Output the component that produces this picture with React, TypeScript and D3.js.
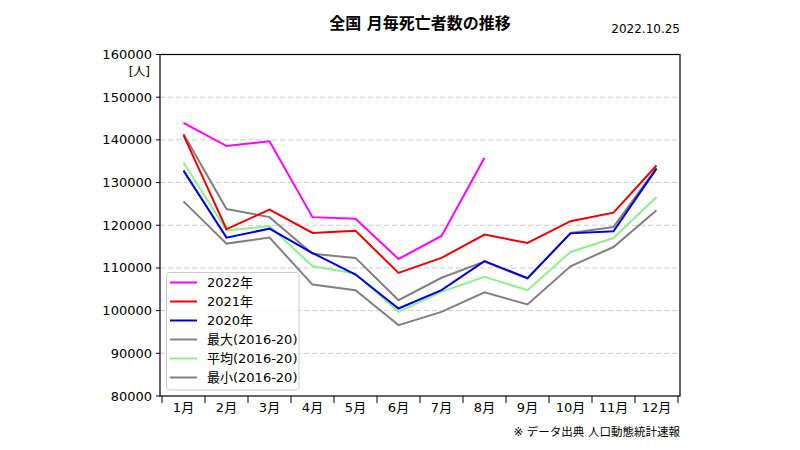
import React from 'react';
import { scaleBand, scaleLinear, line, range } from 'd3';

const width = 800;
const height = 450;

const months = ['1月', '2月', '3月', '4月', '5月', '6月', '7月', '8月', '9月', '10月', '11月', '12月'];
const yTicks = [80000, 90000, 100000, 110000, 120000, 130000, 140000, 150000, 160000];

const y2022 = [144000, 138550, 139650, 121900, 121500, 112100, 117500, 135800];
const y2021 = [141100, 119100, 123650, 118200, 118700, 108850, 112350, 117800, 115850, 120950, 122950, 134000];
const y2020 = [132800, 117100, 119200, 113500, 108450, 100500, 104800, 111600, 107600, 118100, 118600, 133250];
const maxVals = [141400, 123800, 121900, 113300, 112350, 102450, 107700, 111500, 107500, 118200, 119600, 133400];
const avgVals = [134700, 118800, 119800, 110400, 108700, 99700, 104400, 107900, 104800, 113750, 117000, 126600];
const minVals = [125600, 115700, 117100, 106100, 104800, 96600, 99700, 104300, 101450, 110400, 114900, 123500];

const series = [
  { name: '2022年', color: '#ff00ff', values: y2022 },
  { name: '2021年', color: '#ee0000', values: y2021 },
  { name: '2020年', color: '#0000dd', values: y2020 },
  { name: '最大(2016-20)', color: '#808080', values: maxVals },
  { name: '平均(2016-20)', color: '#90ee90', values: avgVals },
  { name: '最小(2016-20)', color: '#808080', values: minVals },
];

const left = 160;
const right = 680;
const top = 54.5;
const bottom = 396;

const x = scaleBand<string>().domain(months).range([162, 678]);
const y = scaleLinear().domain([80000, 160000]).range([bottom, top]);
const cx = (i: number) => (x(months[i]) as number) + x.bandwidth() / 2;

const path = line<number>()
  .x((_, i) => cx(i))
  .y((d) => y(d));

const font = '"DejaVu Sans", "Noto Sans CJK JP", sans-serif';

const App = () => {
  // grey reference bands first, yearly lines on top
  const drawOrder = [3, 4, 5, 2, 1, 0];
  return (
    <svg
      width={width}
      height={height}
      style={{ position: 'absolute', left: 0, top: 0, background: '#fff' }}
      fontFamily={font}
    >
      <text x={420} y={29} textAnchor="middle" fontSize={16} fontWeight="bold">
        全国 月毎死亡者数の推移
      </text>
      <text x={680} y={33} textAnchor="end" fontSize={12}>
        2022.10.25
      </text>

      {yTicks.slice(1, -1).map((t) => (
        <line
          key={t}
          x1={left}
          x2={right}
          y1={y(t)}
          y2={y(t)}
          stroke="#cccccc"
          strokeWidth={1}
          strokeDasharray="5,3"
        />
      ))}

      {drawOrder.map((k) => (
        <path
          key={k}
          d={path(series[k].values) as string}
          fill="none"
          stroke={series[k].color}
          strokeWidth={2}
        />
      ))}

      <rect x={left} y={top} width={right - left} height={bottom - top} fill="none" stroke="#000" strokeWidth={1.2} />

      {yTicks.map((t) => (
        <g key={t}>
          <line x1={left - 4} x2={left} y1={y(t)} y2={y(t)} stroke="#000" />
          <text x={left - 8} y={y(t)} dy="0.35em" textAnchor="end" fontSize={13}>
            {t}
          </text>
        </g>
      ))}
      <text x={150} y={76} textAnchor="end" fontSize={12}>
        [人]
      </text>

      {range(months.length + 1).map((i) => {
        const xx = 162 + i * x.step();
        return <line key={i} x1={xx} x2={xx} y1={bottom} y2={bottom + 7} stroke="#000" />;
      })}
      {months.map((m, i) => (
        <text key={m} x={cx(i)} y={412} textAnchor="middle" fontSize={13}>
          {m}
        </text>
      ))}

      <g>
        <rect x={166.5} y={272.5} width={132.5} height={117.5} rx={3} fill="#fff" fillOpacity={0.85} stroke="#cccccc" />
        {series.map((s, i) => {
          const ly = 282.5 + i * 19;
          return (
            <g key={s.name}>
              <line x1={170} x2={197} y1={ly} y2={ly} stroke={s.color} strokeWidth={2} />
              <text x={207} y={ly} dy="0.35em" fontSize={13}>
                {s.name}
              </text>
            </g>
          );
        })}
      </g>

      <text x={680} y={436} textAnchor="end" fontSize={11.5}>
        ※ データ出典 人口動態統計速報
      </text>
    </svg>
  );
};

export default App;
